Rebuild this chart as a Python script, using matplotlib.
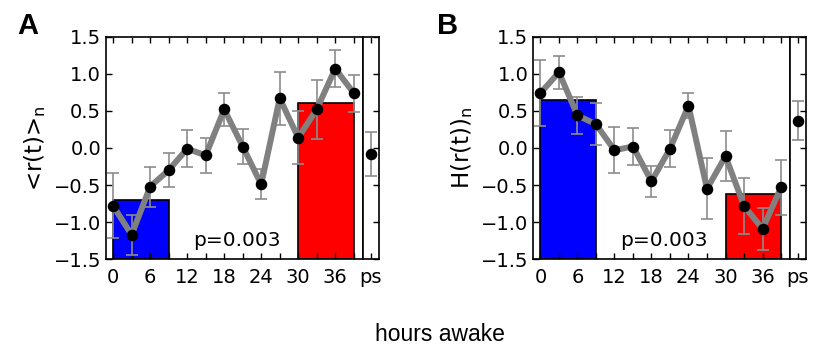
import numpy as np #thư viện toán học
import matplotlib
matplotlib.use('Agg')
import matplotlib.pyplot as plt #Thư viện vẽ biểu đồ

#Số liệu
gio = [0, 3, 6, 9, 12, 15, 18, 21, 24, 27, 30, 33, 36, 39]
r_tb = [-0.78, -1.17, -0.52, -0.30, -0.01, -0.10, 0.52, 0.02, -0.49, 0.67, 0.14, 0.52, 1.07, 0.74]
r_ss = [0.44, 0.27, 0.27, 0.23, 0.25, 0.24, 0.22, 0.24, 0.20, 0.36, 0.36, 0.40, 0.25, 0.25]
H_tb = [0.74, 1.02, 0.44, 0.32, -0.03, 0.02, -0.45, -0.01, 0.57, -0.55, -0.11, -0.78, -1.09, -0.53]
H_ss = [0.45, 0.22, 0.25, 0.28, 0.31, 0.25, 0.21, 0.25, 0.17, 0.41, 0.34, 0.38, 0.28, 0.37]
r_ps, r_ps_ss = -0.08, 0.30
H_ps, H_ps_ss = 0.37, 0.26
#Cột trung bình: đầu (0-9 giờ) và cuối (30-39 giờ)
cot_x = [0, 30]
cot_rong = 9
r_cot = [-0.70, 0.61]
H_cot = [0.65, -0.62]
p_text = 'p=0.003'
ylabels = [r'<r(t)>$_\mathregular{n}$', r'H(r(t))$_\mathregular{n}$']

plt.rcParams['font.family'] = 'DejaVu Sans'
plt.rcParams['font.size'] = 14
plt.rcParams['mathtext.default'] = 'regular'

def veKhung(fig, trai, tb, ss, cot, ps, ps_ss, ylabel, chu, chu_x):
    ax = fig.add_axes([trai, 0.255, 0.313, 0.6395])
    axp = fig.add_axes([trai + 0.313, 0.255, 0.0195, 0.6395])
    #Cột xanh và đỏ từ -1.5
    ax.bar(cot_x, [c + 1.5 for c in cot], width=cot_rong, bottom=-1.5, align='edge',
           color=['#0000ff', '#ff0000'], edgecolor='black', linewidth=1.2, zorder=1)
    ax.errorbar(gio, tb, yerr=ss, fmt='none', ecolor='#8c8c8c', elinewidth=1.2,
                capsize=4.5, capthick=1.2, zorder=2)
    ax.plot(gio, tb, color='#808080', linewidth=4.3, zorder=3)
    ax.plot(gio, tb, 'o', color='black', markersize=7.3, zorder=4)
    ax.text(20, -1.25, p_text, ha='center', va='center', fontsize=14.5)
    ax.set_xlim(-1.15, 40.45)
    ax.set_ylim(-1.5, 1.5)
    ax.set_xticks(np.arange(0, 40, 3), minor=True)
    ax.set_xticks(np.arange(0, 37, 6))
    ax.set_yticks(np.arange(-1.5, 1.51, 0.5))
    ax.tick_params(which='both', direction='in', length=4, width=1, top=True, right=False)
    ax.tick_params(axis='x', which='major', pad=6)
    ax.set_ylabel(ylabel, fontsize=16.5, labelpad=4)
    for s in ax.spines.values():
        s.set_linewidth(1.2)

    #Khung nhỏ "ps"
    axp.errorbar([0], [ps], yerr=[ps_ss], fmt='none', ecolor='#8c8c8c', elinewidth=1.2,
                 capsize=4.5, capthick=1.2)
    axp.plot([0], [ps], 'o', color='black', markersize=7.3)
    axp.set_xlim(-0.5, 0.5)
    axp.set_ylim(-1.5, 1.5)
    axp.set_xticks([0])
    axp.set_xticklabels(['ps'])
    axp.set_yticks(np.arange(-1.5, 1.51, 0.5))
    axp.tick_params(direction='in', length=4, width=1, top=True, left=False, right=True,
                    labelleft=False)
    axp.tick_params(axis='x', pad=6)
    for s in axp.spines.values():
        s.set_linewidth(1.2)

    fig.text(chu_x, 0.965, chu, fontsize=21, fontweight='bold', family='Liberation Sans',
             ha='left', va='top')
    return ax

fig = plt.figure(figsize=(8.2, 3.48), dpi=100)
veKhung(fig, 0.1293, r_tb, r_ss, r_cot, r_ps, r_ps_ss, ylabels[0], 'A', 0.021)
veKhung(fig, 0.6504, H_tb, H_ss, H_cot, H_ps, H_ps_ss, ylabels[1], 'B', 0.533)
fig.text(0.537, 0.038, 'hours awake', family='Liberation Sans', fontsize=16.5,
         ha='center', va='center')
fig.savefig('out.png', dpi=100)
